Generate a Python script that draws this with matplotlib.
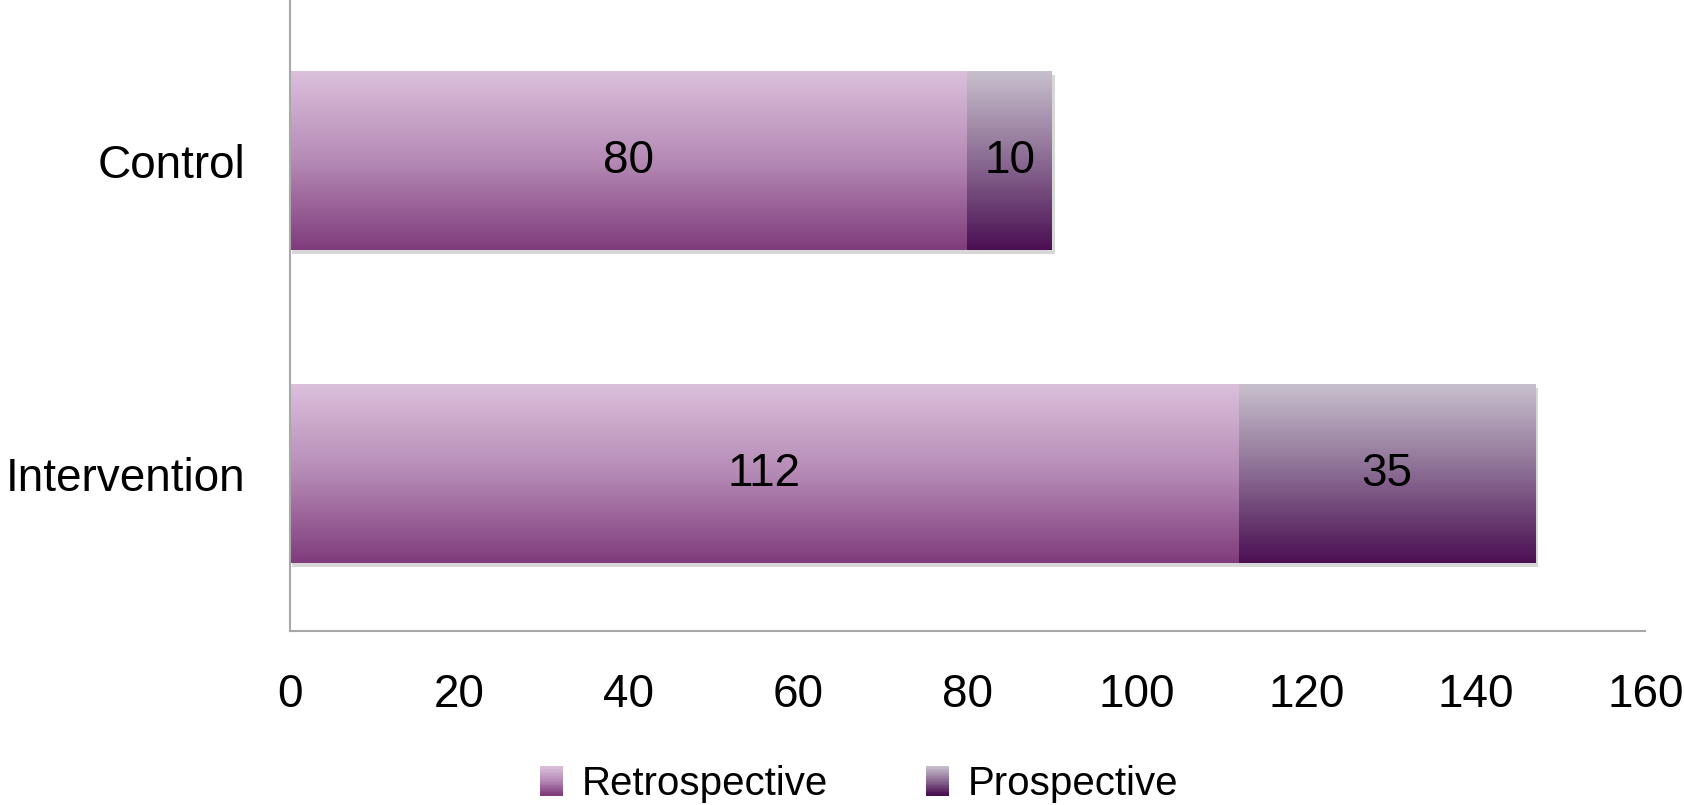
import numpy as np
import matplotlib
matplotlib.use("Agg")
import matplotlib.pyplot as plt
from matplotlib.colors import LinearSegmentedColormap
from matplotlib.legend_handler import HandlerBase
from matplotlib.patches import Rectangle

# data
groups = ["Intervention", "Control"]
retrospective = [112, 80]
prospective = [35, 10]
series_names = ["Retrospective", "Prospective"]
x_ticks = [0, 20, 40, 60, 80, 100, 120, 140, 160]

# top -> bottom gradient colours
retro_cols = ["#dbc0db", "#b58ab5", "#7f3b7c"]
prosp_cols = ["#c8c0cd", "#8a6b92", "#4a0f52"]

plt.rcParams["font.family"] = ["Liberation Sans", "DejaVu Sans"]
FS = 33

fig = plt.figure(figsize=(16.84, 8.05), dpi=100)
ax = fig.add_axes([0.172, 0.216, 0.805, 0.784])

y = np.arange(len(groups))
h = 0.57
bars_r = ax.barh(y, retrospective, height=h, color="none")
bars_p = ax.barh(y, prospective, left=retrospective, height=h, color="none")


def fill_gradient(bar, cols):
    cmap = LinearSegmentedColormap.from_list("g", cols)
    x0, y0 = bar.get_x(), bar.get_y()
    w, hh = bar.get_width(), bar.get_height()
    grad = np.linspace(0, 1, 256).reshape(-1, 1)
    # faint drop shadow
    ax.add_patch(Rectangle((x0 + 0.3, y0 - 0.012), w, hh, color="#b0b0b0",
                           alpha=0.5, zorder=1, lw=0))
    ax.imshow(grad, cmap=cmap, aspect="auto", origin="upper",
              extent=(x0, x0 + w, y0, y0 + hh), zorder=2, interpolation="bilinear")


for b in bars_r:
    fill_gradient(b, retro_cols)
for b in bars_p:
    fill_gradient(b, prosp_cols)

for bars, vals in ((bars_r, retrospective), (bars_p, prospective)):
    for b, v in zip(bars, vals):
        ax.text(b.get_x() + b.get_width() / 2, b.get_y() + b.get_height() / 2,
                str(v), ha="center", va="center", fontsize=FS, color="black", zorder=3)

ax.set_xlim(0, 160)
ax.set_ylim(-0.503, 1.513)
ax.set_xticks(x_ticks)
ax.set_xticklabels([str(t) for t in x_ticks], fontsize=FS)
ax.set_yticks(y)
ax.set_yticklabels(groups, fontsize=FS)
ax.tick_params(length=0)
ax.tick_params(axis="x", pad=30)
ax.tick_params(axis="y", pad=32)
for s in ["top", "right"]:
    ax.spines[s].set_visible(False)
for s in ["left", "bottom"]:
    ax.spines[s].set_color("#a8a8a8")
    ax.spines[s].set_linewidth(1.5)


class GradHandler(HandlerBase):
    def __init__(self, cols):
        super().__init__()
        self.cols = cols

    def create_artists(self, legend, orig_handle, xdescent, ydescent,
                       width, height, fontsize, trans):
        cmap = LinearSegmentedColormap.from_list("g", self.cols)
        n = 20
        side_h = height * 1.05
        side_w = side_h * 0.78
        x0 = -xdescent + (width - side_w) / 2
        y0 = -ydescent + (height - side_h) / 2
        arts = []
        for i in range(n):
            arts.append(Rectangle((x0, y0 + side_h * (n - 1 - i) / n), side_w, side_h / n + 0.3,
                                  color=cmap(i / (n - 1)), lw=0, transform=trans))
        return arts


h1 = Rectangle((0, 0), 1, 1)
h2 = Rectangle((0, 0), 1, 1)
fig.legend([h1, h2], series_names, loc="center", bbox_to_anchor=(0.51, 0.026),
           ncol=2, frameon=False, fontsize=29, handlelength=0.6, handletextpad=0.45,
           columnspacing=2.4,
           handler_map={h1: GradHandler(retro_cols), h2: GradHandler(prosp_cols)})

fig.savefig("out.png", dpi=100)
